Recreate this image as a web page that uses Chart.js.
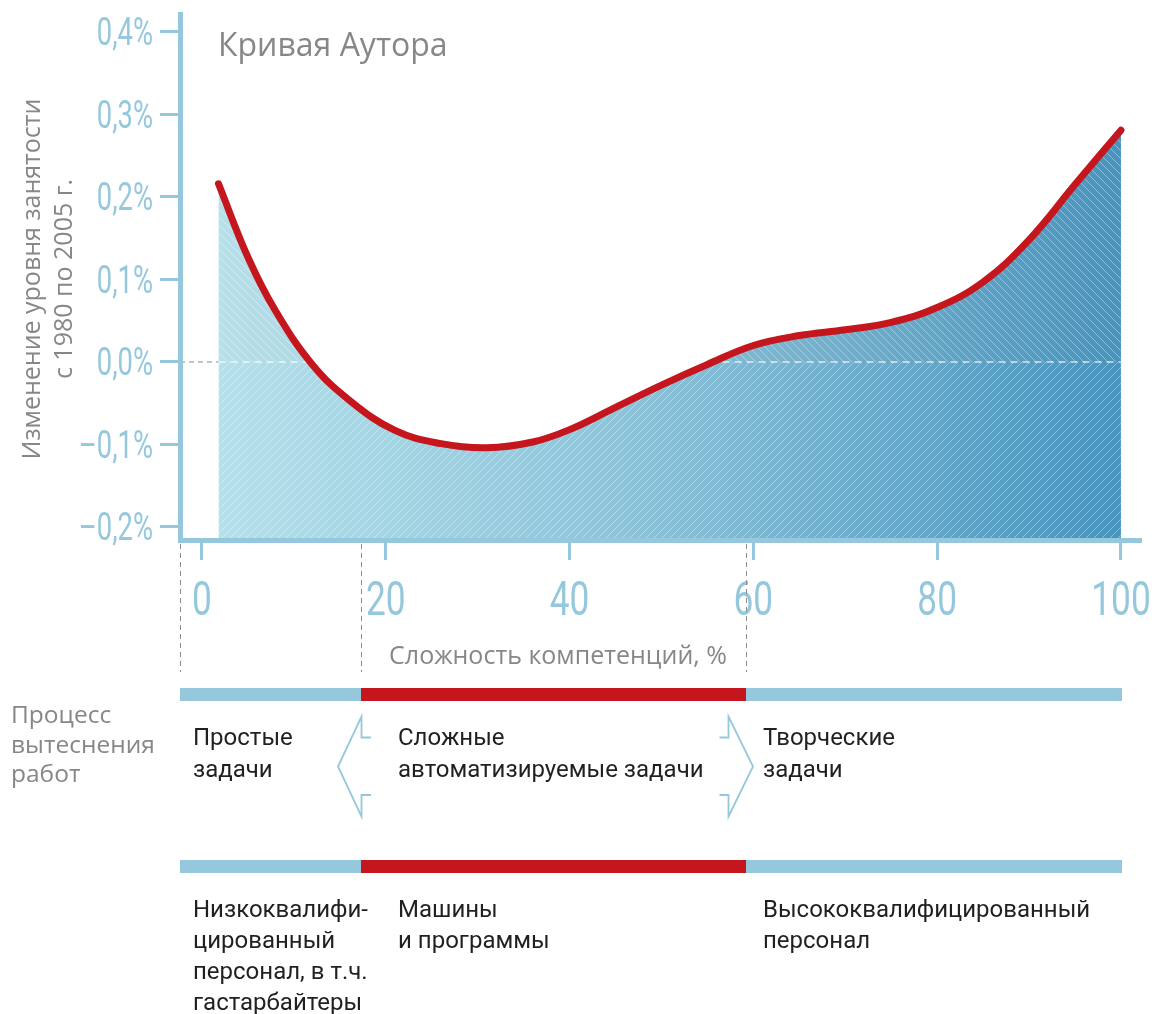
<!DOCTYPE html>
<html lang="ru">
<head>
<meta charset="utf-8">
<title>Кривая Аутора</title>
<script src="https://cdn.jsdelivr.net/npm/chart.js@4/dist/chart.umd.min.js"></script>
<style>
    html, body { margin: 0; padding: 0; background: #ffffff; }
    canvas { display: block; }
</style>
</head>
<body>
<canvas id="autor" width="1155" height="1014"></canvas>
<script>
// competency complexity (%) and change of employment share 1980-2005 (%)
const complexity = [1.8, 5, 8, 12, 16, 21, 26, 31, 36, 40, 45, 50, 55, 60, 65, 70, 75, 80, 85, 90, 95, 100];
const employmentChange = [0.216, 0.127, 0.062, -0.003, -0.046, -0.083, -0.099, -0.104, -0.097, -0.082, -0.055, -0.028, -0.003, 0.020, 0.032, 0.039, 0.048, 0.066, 0.097, 0.148, 0.215, 0.281];

const xTicks = [0, 20, 40, 60, 80, 100];
const yTicks = [-0.2, -0.1, 0, 0.1, 0.2, 0.3, 0.4];

// zone borders on the complexity axis: simple / automatable / creative
const zoneEdges = [-2.39, 17.3, 59.2, 100.1];

const title = 'Кривая Аутора';
const yTitle = ['Изменение уровня занятости', 'с 1980 по 2005 г.'];
const xTitle = 'Сложность компетенций, %';
const processLabel = ['Процесс', 'вытеснения', 'работ'];
const taskLabels = [['Простые', 'задачи'], ['Сложные', 'автоматизируемые задачи'], ['Творческие', 'задачи']];
const workerLabels = [['Низкоквалифи-', 'цированный', 'персонал, в т.ч.', 'гастарбайтеры'], ['Машины', 'и программы'], ['Высококвалифицированный', 'персонал']];

const X_MIN = -2.39, X_MAX = 102.18;
const Y_MIN = -0.2158, Y_MAX = 0.4218;

const BLUE = '#95c8dc';
const RED = '#c5161d';
const GREY = '#878787';
const INK = '#231f20';
const SANS = "'Open Sans', 'Noto Sans', sans-serif";
const TEXT = "Roboto, 'Noto Sans', sans-serif";

const curve = complexity.map((x, i) => ({ x, y: employmentChange[i] }));
const last = complexity.length - 1;

const patternCache = {};
function hatch(chart, dir) {
    if (!chart.chartArea) return 'rgba(0,0,0,0)';
    const key = chart.width + 'x' + chart.height + dir;
    if (patternCache[key]) return patternCache[key];
    const c = document.createElement('canvas');
    c.width = chart.width;
    c.height = chart.height;
    const g = c.getContext('2d');
    const xs = chart.scales.x;
    const x0 = xs.getPixelForValue(complexity[0]);
    const x1 = xs.getPixelForValue(complexity[last]);
    const grad = g.createLinearGradient(x0, 0, x1, 0);
    grad.addColorStop(0, '#b6e0ea');
    grad.addColorStop(0.45, '#8ec3d8');
    grad.addColorStop(1, '#4894be');
    g.fillStyle = grad;
    g.fillRect(0, 0, c.width, c.height);
    g.strokeStyle = 'rgba(255,255,255,0.36)';
    g.lineWidth = 1;
    const H = c.height;
    for (let s = -H; s < c.width + H; s += 8) {
        g.beginPath();
        if (dir === 'slash') {
            g.moveTo(s, H);
            g.lineTo(s + H, 0);
        } else {
            g.moveTo(s, 0);
            g.lineTo(s + H, H);
        }
        g.stroke();
    }
    patternCache[key] = chart.ctx.createPattern(c, 'no-repeat');
    return patternCache[key];
}

function drawArrow(ctx, bx, dir) {
    // dir -1: points left, tip left of bx; dir 1: points right
    ctx.beginPath();
    if (dir < 0) {
        ctx.moveTo(bx + 9.5, 737.5);
        ctx.lineTo(bx, 737.5);
        ctx.lineTo(bx, 716.5);
        ctx.lineTo(bx - 23.5, 766.5);
        ctx.lineTo(bx, 816.5);
        ctx.lineTo(bx, 795);
        ctx.lineTo(bx + 9.5, 795);
    } else {
        ctx.moveTo(bx - 27, 737.5);
        ctx.lineTo(bx - 18, 737.5);
        ctx.lineTo(bx - 18, 716.5);
        ctx.lineTo(bx + 6.5, 766.5);
        ctx.lineTo(bx - 18, 816.5);
        ctx.lineTo(bx - 18, 795);
        ctx.lineTo(bx - 27, 795);
    }
    ctx.stroke();
}

const fmtY = (v) => (v < 0 ? '–' : '') + Math.abs(v).toFixed(1).replace('.', ',') + '%';

// narrow tick labels (the original uses a condensed face)
function narrowText(ctx, text, x, y, align) {
    ctx.save();
    ctx.translate(x, y);
    ctx.scale(0.72, 1);
    ctx.textAlign = align;
    ctx.fillText(text, 0, 0);
    ctx.restore();
}

const decor = {
    id: 'decor',
    afterDraw(chart) {
        const { ctx } = chart;
        const xs = chart.scales.x;
        const ys = chart.scales.y;
        const px = zoneEdges.map((v) => Math.round(xs.getPixelForValue(v)) + 0.5);
        ctx.save();
        ctx.textBaseline = 'alphabetic';

        // tick labels
        ctx.fillStyle = BLUE;
        ctx.font = '38px Roboto, sans-serif';
        yTicks.forEach((v) => narrowText(ctx, fmtY(v), 153, ys.getPixelForValue(v) + 13.5, 'right'));
        ctx.font = '49px Roboto, sans-serif';
        xTicks.forEach((v) => narrowText(ctx, String(v), xs.getPixelForValue(v), 615, 'center'));

        // title
        ctx.fillStyle = GREY;
        ctx.font = '32px ' + SANS;
        ctx.textAlign = 'left';
        ctx.fillText(title, 218, 56);

        // y title, rotated
        ctx.font = '25px ' + SANS;
        ctx.textAlign = 'center';
        [40, 72].forEach((bx, i) => {
            ctx.save();
            ctx.translate(bx, 279);
            ctx.rotate(-Math.PI / 2);
            ctx.fillText(yTitle[i], 0, 0);
            ctx.restore();
        });

        // x title
        ctx.fillText(xTitle, 558, 664);

        // dashed zone borders below the axis
        ctx.strokeStyle = '#8c8c8c';
        ctx.lineWidth = 1;
        ctx.setLineDash([5, 4]);
        px.slice(0, 3).forEach((x) => {
            ctx.beginPath();
            ctx.moveTo(x, 544);
            ctx.lineTo(x, 672);
            ctx.stroke();
        });
        ctx.setLineDash([]);

        // two zone bars
        const colours = [BLUE, RED, BLUE];
        [688, 860].forEach((top) => {
            for (let i = 0; i < 3; i++) {
                ctx.fillStyle = colours[i];
                ctx.fillRect(px[i] - 0.5, top, px[i + 1] - px[i], 13);
            }
        });

        // arrows
        ctx.strokeStyle = BLUE;
        ctx.lineWidth = 1.8;
        ctx.lineJoin = 'miter';
        drawArrow(ctx, px[1], -1);
        drawArrow(ctx, px[2], 1);

        // left label
        ctx.textAlign = 'left';
        ctx.fillStyle = GREY;
        ctx.font = '24.5px ' + SANS;
        processLabel.forEach((t, i) => ctx.fillText(t, 11, 723 + i * 29.5));

        // task and worker labels
        const lx = [193, 398, 763];
        ctx.fillStyle = INK;
        ctx.font = '24px ' + TEXT;
        taskLabels.forEach((lines, k) => lines.forEach((t, i) => ctx.fillText(t, lx[k], 745 + i * 32)));
        workerLabels.forEach((lines, k) => lines.forEach((t, i) => ctx.fillText(t, lx[k], 917 + i * 31)));

        ctx.restore();
    },
};

new Chart(document.getElementById('autor'), {
    type: 'line',
    data: {
        datasets: [
            {
                // area under the curve, "/" hatching
                data: curve,
                borderWidth: 0,
                pointRadius: 0,
                tension: 0.4,
                backgroundColor: (c) => hatch(c.chart, 'slash'),
                fill: 'start',
                order: 3,
            },
            {
                // part above zero, "\" hatching
                data: curve,
                borderWidth: 0,
                pointRadius: 0,
                tension: 0.4,
                backgroundColor: (c) => hatch(c.chart, 'back'),
                fill: { target: { value: 0 }, below: 'rgba(0,0,0,0)' },
                order: 2,
            },
            {
                data: [{ x: X_MIN, y: 0 }, { x: complexity[0], y: 0 }],
                borderColor: '#8a8a8a',
                borderWidth: 1,
                borderDash: [5, 4],
                pointRadius: 0,
                fill: false,
                order: 1,
            },
            {
                data: [{ x: complexity[0], y: 0 }, { x: complexity[last], y: 0 }],
                borderColor: 'rgba(255,255,255,0.75)',
                borderWidth: 1.5,
                borderDash: [7, 5],
                pointRadius: 0,
                fill: false,
                order: 1,
            },
            {
                data: curve,
                borderColor: RED,
                borderWidth: 7,
                borderCapStyle: 'round',
                pointRadius: 0,
                tension: 0.4,
                fill: false,
                order: 0,
            },
        ],
    },
    options: {
        responsive: false,
        animation: false,
        events: [],
        layout: { padding: { left: 0, top: 14, right: 14, bottom: 394 } },
        plugins: { legend: { display: false }, tooltip: { enabled: false } },
        scales: {
            x: {
                type: 'linear',
                min: X_MIN,
                max: X_MAX,
                afterBuildTicks: (s) => { s.ticks = xTicks.map((value) => ({ value })); },
                afterFit: (s) => { s.height = 80; s.paddingLeft = 0; s.paddingRight = 0; },
                border: { color: BLUE, width: 5, z: 1 },
                grid: { drawOnChartArea: false, tickLength: 20, tickWidth: 3, tickColor: BLUE },
                ticks: { display: false },
            },
            y: {
                type: 'linear',
                min: Y_MIN,
                max: Y_MAX,
                afterBuildTicks: (s) => { s.ticks = yTicks.map((value) => ({ value })); },
                afterFit: (s) => { s.width = 180; s.paddingTop = 0; s.paddingBottom = 0; },
                border: { color: BLUE, width: 5, z: 1 },
                grid: { drawOnChartArea: false, tickLength: 20, tickWidth: 3, tickColor: BLUE },
                ticks: { display: false },
            },
        },
    },
    plugins: [decor],
});
</script>
</body>
</html>
